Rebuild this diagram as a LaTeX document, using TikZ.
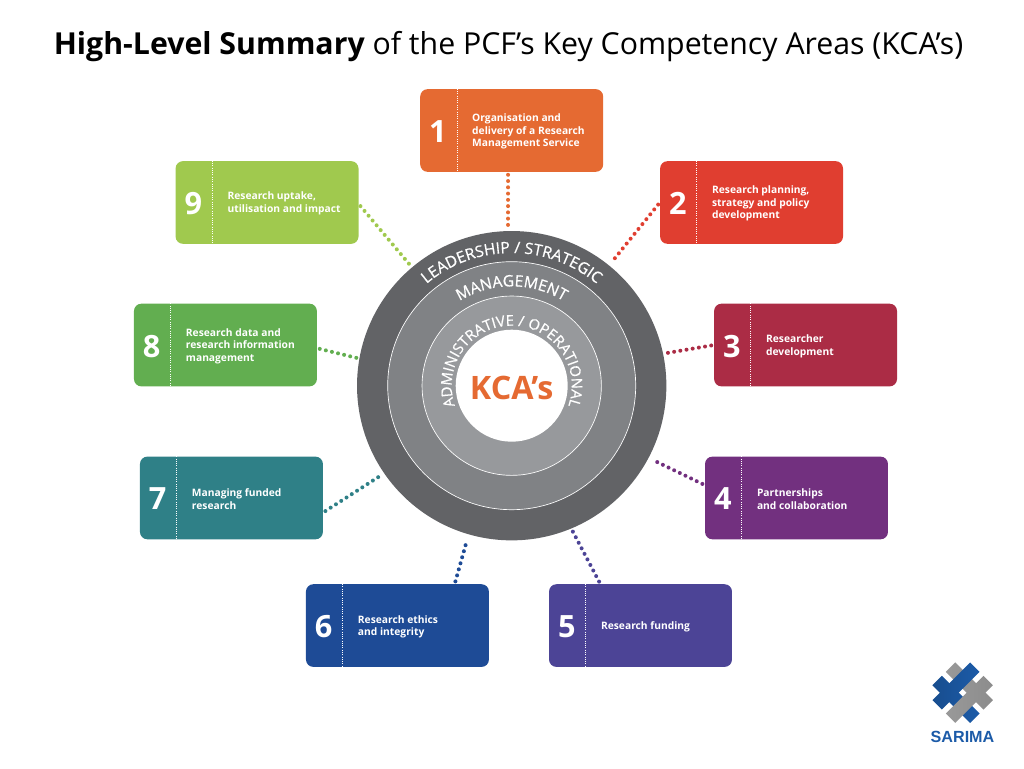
\documentclass[tikz,border=0pt]{standalone}
\usepackage{fontspec}
\setmainfont{Open Sans}
\newfontfamily\sarimafont{Liberation Sans}
\newfontfamily\ringfont[FakeBold=0.6]{Open Sans}
\usepackage{xcolor}
\usetikzlibrary{positioning,decorations.text}
\definecolor{kca1}{HTML}{E56A32}
\definecolor{kca2}{HTML}{E03E30}
\definecolor{kca3}{HTML}{AB2C45}
\definecolor{kca4}{HTML}{72307F}
\definecolor{kca5}{HTML}{4C4496}
\definecolor{kca6}{HTML}{1E4B96}
\definecolor{kca7}{HTML}{2F8087}
\definecolor{kca8}{HTML}{62AE50}
\definecolor{kca9}{HTML}{A0C94E}
\definecolor{ringouter}{HTML}{626366}
\definecolor{ringmiddle}{HTML}{808285}
\definecolor{ringinner}{HTML}{97999C}
\definecolor{sarimablue}{HTML}{1C5BA8}
\tikzset{card/.style={rectangle,fill=#1,rounded corners=5.5pt,minimum width=137.2pt,minimum height=62pt,inner sep=0pt},
            cardnum/.style={text=white,font=\fontsize{23}{23}\selectfont\bfseries,inner sep=0pt},
            cardtext/.style={text=white,font=\fontsize{7.7}{9.4}\selectfont\bfseries,align=left,anchor=west,inner sep=0pt},
            divider/.style={white,line width=.6pt,dash pattern=on .7pt off 1pt},
            dotlink/.style={#1,line width=3pt,line cap=round,dash pattern=on 0pt off 4.7pt,shorten <=2pt},
            ring/.style={circle,fill=#1,inner sep=0pt},
            logobar/.style={rectangle,rotate=#1,minimum width=40pt,minimum height=10pt,inner sep=0pt},
            bluebar/.style={logobar=#1,left color=sarimablue!85!black,middle color=sarimablue!55!white,right color=sarimablue},
            greybar/.style={logobar=#1,left color=black!40,middle color=black!10,right color=black!45},
            }

\begin{document}
\begin{tikzpicture}[x=.75pt,y=.75pt]

    \useasboundingbox (0,0) rectangle (1024,768);

    \node[anchor=center,inner sep=0pt,font=\fontsize{22.7}{22.7}\selectfont] (title) at (508.5,721)
        {\textbf{High-Level Summary} of the PCF’s Key Competency Areas (KCA’s)};

    % the rings
    \node[ring=ringouter,minimum size=232pt] (outer) at (511.7,382.3) {};
    \node[ring=ringmiddle,draw=white,line width=.5pt,minimum size=186pt] (middle) at (outer.center) {};
    \node[ring=ringinner,draw=white,line width=.5pt,minimum size=134.5pt] (inner) at (outer.center) {};
    \node[ring=white,minimum size=84pt] (kca) at (outer.center) {};
    \node[text=kca1,font=\fontsize{24.2}{24.2}\selectfont\bfseries,inner sep=0pt] (kcalabel) at ([yshift=-1.5pt]kca.center) {KCA’s};

    \path[decorate,decoration={text along path,text align=center,
        text={|\color{white}\fontsize{11.8}{11.8}\ringfont|LEADERSHIP / STRATEGIC}}]
        ([shift={(150:99.5pt)}]kca.center) arc (150:30:99.5pt);
    \path[decorate,decoration={text along path,text align=center,
        text={|\color{white}\fontsize{11.8}{11.8}\ringfont|MANAGEMENT}}]
        ([shift={(140:74.5pt)}]kca.center) arc (140:40:74.5pt);
    \path[decorate,decoration={text along path,text align=center,
        text={|\color{white}\fontsize{11.1}{11.1}\ringfont|ADMINISTRATIVE / OPERATIONAL}}]
        ([shift={(225:45pt)}]kca.center) arc (225:-45:45pt);

    % the cards
    \begin{scope}[on grid]
    \node[card=kca1] (c1) [above = 191.4pt of kca] {};
    \node[card=kca2] (c2) [above right = 137.4pt and 179.9pt of kca] {};
    \node[card=kca3] (c3) [above right = 30.5pt and 220.4pt of kca] {};
    \node[card=kca4] (c4) [below right = 84.2pt and 213.6pt of kca] {};
    \node[card=kca5] (c5) [below right = 179.9pt and 96.6pt of kca] {};
    \node[card=kca6] (c6) [below left = 179.9pt and 85.7pt of kca] {};
    \node[card=kca7] (c7) [below left = 84.2pt and 210.2pt of kca] {};
    \node[card=kca8] (c8) [above left = 30.5pt and 214.7pt of kca] {};
    \node[card=kca9] (c9) [above left = 137.4pt and 183.5pt of kca] {};
    \end{scope}

    \foreach \i in {1,...,9} {
        \node[cardnum] (n\i) at ([xshift=13.5pt,yshift=-.8pt]c\i.west) {\i};
        \draw[divider] ([xshift=27.75pt]c\i.north west) -- ([xshift=27.75pt]c\i.south west);
    }

    \node[cardtext] (t1) at ([xshift=39pt,yshift=-.8pt]c1.west) {Organisation and\\delivery of a Research\\Management Service};
    \node[cardtext] (t2) at ([xshift=39pt,yshift=-.8pt]c2.west) {Research planning,\\strategy and policy\\development};
    \node[cardtext] (t3) at ([xshift=39pt,yshift=-.8pt]c3.west) {Researcher\\development};
    \node[cardtext] (t4) at ([xshift=39pt,yshift=-.8pt]c4.west) {Partnerships\\and collaboration};
    \node[cardtext] (t5) at ([xshift=39pt,yshift=-.8pt]c5.west) {Research funding};
    \node[cardtext] (t6) at ([xshift=39pt,yshift=-.8pt]c6.west) {Research ethics\\and integrity};
    \node[cardtext] (t7) at ([xshift=39pt,yshift=-.8pt]c7.west) {Managing funded\\research};
    \node[cardtext] (t8) at ([xshift=39pt,yshift=-.8pt]c8.west) {Research data and\\research information\\management};
    \node[cardtext] (t9) at ([xshift=39pt,yshift=-.8pt]c9.west) {Research uptake,\\utilisation and impact};

    % free ends of the dotted links, on the outer ring
    \coordinate (r1) at (508,543);
    \coordinate (r2) at (611,505);
    \coordinate (r3) at (667,415);
    \coordinate (r4) at (655,307);
    \coordinate (r5) at (572,238);
    \coordinate (r6) at (467,228);
    \coordinate (r7) at (380,292);
    \coordinate (r8) at (357,410);
    \coordinate (r9) at (410,503);

    \draw[dotlink=kca1] (c1.265) -- (r1);
    \draw[dotlink=kca2] (c2.west) -- (r2);
    \draw[dotlink=kca3] (c3.west) -- (r3);
    \draw[dotlink=kca4] (c4.172) -- (r4);
    \draw[dotlink=kca5] (c5.134) -- (r5);
    \draw[dotlink=kca6] (c6.36) -- (r6);
    \draw[dotlink=kca7] (c7.-9) -- (r7);
    \draw[dotlink=kca8] (c8.-2) -- (r8);
    \draw[dotlink=kca9] (c9.-1) -- (r9);

    % the logo
    \node[greybar=-45] (logoc) at (969.4,82) {};
    \node[bluebar=-45] (logob) at (956,68.6) {};
    \node[bluebar=45] (logoa) at (956,82) {};
    \node[greybar=45] (logod) at (969.4,68.6) {};
    \node[text=sarimablue,font=\fontsize{12.1}{12.1}\sarimafont\bfseries,inner sep=0pt] (sarima) at (962.5,31) {SARIMA};

\end{tikzpicture}
\end{document}
